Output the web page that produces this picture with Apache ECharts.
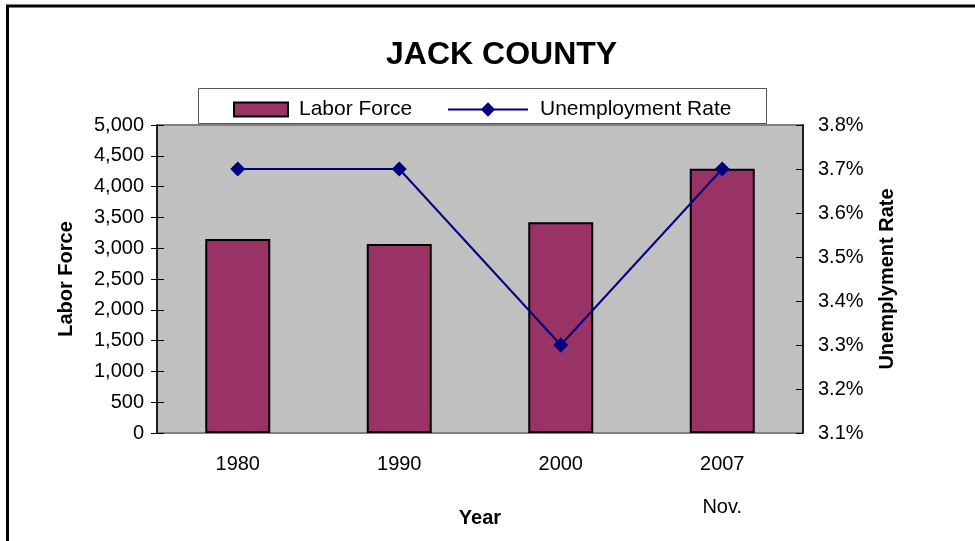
<!DOCTYPE html>
<html>
<head>
<meta charset="utf-8">
<script src="https://cdn.jsdelivr.net/npm/echarts@6/dist/echarts.min.js"></script>
<style>
  html, body { margin: 0; padding: 0; background: #fff; overflow: hidden; }
  #chart { width: 975px; height: 541px; }
</style>
</head>
<body>
<div id="chart"></div>
<script>
// Jack County labor force and unemployment rate
const years = ['1980', '1990', '2000', '2007 Nov.'];
const laborForce = [3150, 3070, 3420, 4290];
const unemploymentRate = [3.7, 3.7, 3.3, 3.7];
const laborTicks = { min: 0, max: 5000, step: 500 };
const rateTicks = { min: 3.1, max: 3.8, step: 0.1 };

const FONT = 'Arial, "Liberation Sans", sans-serif';
const chart = echarts.init(document.getElementById('chart'));
const H = chart.getHeight();
const PLOT_BOTTOM = 433;

chart.setOption({
  animation: false,
  backgroundColor: '#ffffff',
  title: {
    text: 'JACK COUNTY',
    left: 381,
    top: 34,
    textStyle: { fontFamily: FONT, fontSize: 32, fontWeight: 'bold', color: '#000' }
  },
  graphic: [
    // outer frame (left and top edges)
    { type: 'line', shape: { x1: 7.5, y1: 6, x2: 7.5, y2: H }, style: { stroke: '#000', lineWidth: 3 }, z: 100 },
    { type: 'line', shape: { x1: 6, y1: 6, x2: 975, y2: 6 }, style: { stroke: '#000', lineWidth: 3 }, z: 100 },
    // legend box
    { type: 'rect', shape: { x: 198.5, y: 88.5, width: 568, height: 35 },
      style: { fill: '#fff', stroke: '#555', lineWidth: 1 }, z: 50 }
  ],
  legend: [
    {
      data: [{ name: 'Labor Force', icon: 'rect' }],
      left: 233, top: 99, padding: 0,
      itemWidth: 54, itemHeight: 14,
      textStyle: { fontFamily: FONT, fontSize: 21, color: '#000', padding: [0, 0, 0, 6] },
      z: 60
    },
    {
      data: ['Unemployment Rate'],
      left: 447, top: 99, padding: 0,
      itemWidth: 80, itemHeight: 18,
      textStyle: { fontFamily: FONT, fontSize: 21, color: '#000', padding: [0, 0, 0, 7] },
      z: 60
    }
  ],
  grid: {
    left: 157, right: 172, top: 125, bottom: H - PLOT_BOTTOM,
    show: true, backgroundColor: '#C0C0C0', borderColor: '#808080', borderWidth: 2
  },
  xAxis: {
    type: 'category',
    data: years,
    name: 'Year',
    nameLocation: 'middle',
    nameGap: 75,
    nameMoveOverlap: false,
    nameTextStyle: { fontFamily: FONT, fontSize: 20, fontWeight: 'bold', color: '#000' },
    axisLine: { lineStyle: { color: '#808080', width: 1 } },
    axisTick: { show: false },
    axisLabel: {
      fontFamily: FONT, fontSize: 20, color: '#000', margin: 21, lineHeight: 21.5,
      formatter: v => v.replace(' ', '\n\n')
    }
  },
  yAxis: [
    {
      type: 'value',
      min: laborTicks.min, max: laborTicks.max, interval: laborTicks.step,
      name: 'Labor Force',
      nameLocation: 'middle',
      nameGap: 81,
      nameRotate: 90,
      nameMoveOverlap: false,
      nameTextStyle: { fontFamily: FONT, fontSize: 20, fontWeight: 'bold', color: '#000' },
      axisLine: { show: true, lineStyle: { color: '#000', width: 1.5 } },
      axisTick: { show: true, length: 6, lineStyle: { color: '#000', width: 1 } },
      splitLine: { show: false },
      axisLabel: {
        fontFamily: FONT, fontSize: 20, color: '#000', margin: 13,
        formatter: v => v.toLocaleString('en-US')
      }
    },
    {
      type: 'value',
      position: 'right',
      min: rateTicks.min, max: rateTicks.max, interval: rateTicks.step,
      name: 'Unemplyment Rate',
      nameLocation: 'middle',
      nameGap: 74,
      nameRotate: 90,
      nameMoveOverlap: false,
      nameTextStyle: { fontFamily: FONT, fontSize: 20, fontWeight: 'bold', color: '#000' },
      axisLine: { show: true, lineStyle: { color: '#000', width: 1.5 } },
      axisTick: { show: true, inside: true, length: 7, lineStyle: { color: '#000', width: 1 } },
      splitLine: { show: false },
      axisLabel: {
        fontFamily: FONT, fontSize: 20, color: '#000', margin: 15,
        formatter: v => v.toFixed(1) + '%'
      }
    },
    {
      // inner half of the crossing ticks on the labor-force axis
      type: 'value',
      position: 'left',
      min: laborTicks.min, max: laborTicks.max, interval: laborTicks.step,
      axisLine: { show: false },
      axisTick: { show: true, inside: true, length: 7, lineStyle: { color: '#000', width: 1 } },
      axisLabel: { show: false },
      splitLine: { show: false }
    }
  ],
  series: [
    {
      name: 'Labor Force',
      type: 'bar',
      data: laborForce,
      barWidth: 65,
      itemStyle: { color: '#993366', borderColor: '#000', borderWidth: 2 },
      z: 2
    },
    {
      name: 'Unemployment Rate',
      type: 'line',
      yAxisIndex: 1,
      data: unemploymentRate,
      symbol: 'diamond',
      symbolSize: 15,
      lineStyle: { color: '#000080', width: 2 },
      itemStyle: { color: '#000080' },
      z: 3
    }
  ]
});
</script>
</body>
</html>
